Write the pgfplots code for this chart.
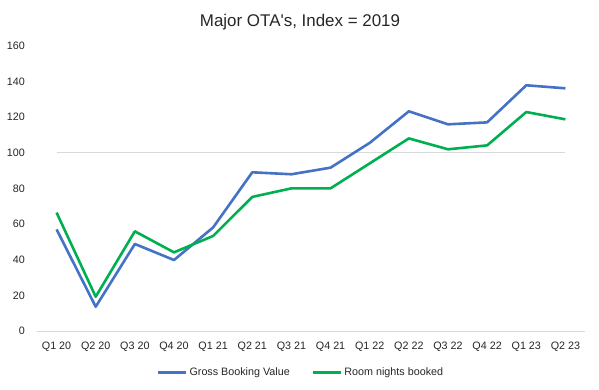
\documentclass[border=0pt]{standalone}
\usepackage{fontspec}
\setmainfont{Liberation Sans}
\usepackage{pgfplots}
\pgfplotsset{compat=1.18}
\definecolor{gbv}{HTML}{4472C4}
\definecolor{rnb}{HTML}{00B050}
\definecolor{gridgray}{HTML}{D9D9D9}
\definecolor{txt}{HTML}{262626}
\begin{document}
\begin{tikzpicture}
\path[use as bounding box] (-37bp,-59bp) rectangle (562bp,331bp);
\begin{axis}[
  at={(0,0)}, anchor=south west,
  scale only axis,
  width=548bp, height=285.3bp,
  xmin=-0.5, xmax=13.5,
  ymin=0, ymax=160,
  xtick={0,...,13},
  xticklabels={Q1 20,Q2 20,Q3 20,Q4 20,Q1 21,Q2 21,Q3 21,Q4 21,Q1 22,Q2 22,Q3 22,Q4 22,Q1 23,Q2 23},
  ytick={0,20,...,160},
  major tick length=0pt,
  axis line style={draw=none},
  /pgf/number format/assume math mode=true,
  tick label style={font=\fontsize{10.8}{12}\selectfont, text=txt},
  xticklabel style={anchor=base, inner sep=0pt, yshift=-18.3bp},
  yticklabel style={anchor=east, inner sep=0pt, xshift=-12bp},
  legend style={draw=none, fill=none, inner sep=0pt, outer sep=0pt,
    at={(axis description cs:0.48,-0.1448)}, anchor=center,
    font=\fontsize{10.8}{12}\selectfont, text=txt,
    nodes={inner sep=0pt},
    /tikz/every odd column/.append style={column sep=2bp},
    /tikz/every even column/.append style={column sep=22bp}},
  legend columns=-1,
  legend image code/.code={\draw[#1, line width=2.6bp] (0bp,0bp) -- (28bp,0bp);},
  clip=false,
]
% x axis base line
\draw[gridgray, line width=0.8bp] (axis cs:-0.5,0) -- (axis cs:13.5,0);
% Index = 100 reference series
\addplot[gridgray, line width=1.5bp, forget plot] coordinates {
 (0,100) (1,100) (2,100) (3,100) (4,100) (5,100) (6,100) (7,100) (8,100) (9,100) (10,100) (11,100) (12,100) (13,100)};
\addplot[gbv, line width=2.6bp, line join=round] coordinates {
 (0,57.0) (1,13.6) (2,48.8) (3,39.8) (4,58.1) (5,89.0) (6,87.9) (7,91.6) (8,105.5) (9,123.2) (10,115.9) (11,117.0) (12,137.8) (13,136.1)};
\addlegendentry{Gross Booking Value}
\addplot[rnb, line width=2.6bp, line join=round] coordinates {
 (0,66.4) (1,19.2) (2,55.9) (3,44.1) (4,53.3) (5,75.2) (6,80.0) (7,80.0) (8,94.0) (9,108.0) (10,101.9) (11,104.1) (12,122.8) (13,118.7)};
\addlegendentry{Room nights booked}
\end{axis}
\node[anchor=base, inner sep=0pt, text=txt, font=\fontsize{17}{20}\selectfont] at (263bp,304.3bp) {Major OTA\textquotesingle s, Index = 2019};
\end{tikzpicture}
\end{document}
